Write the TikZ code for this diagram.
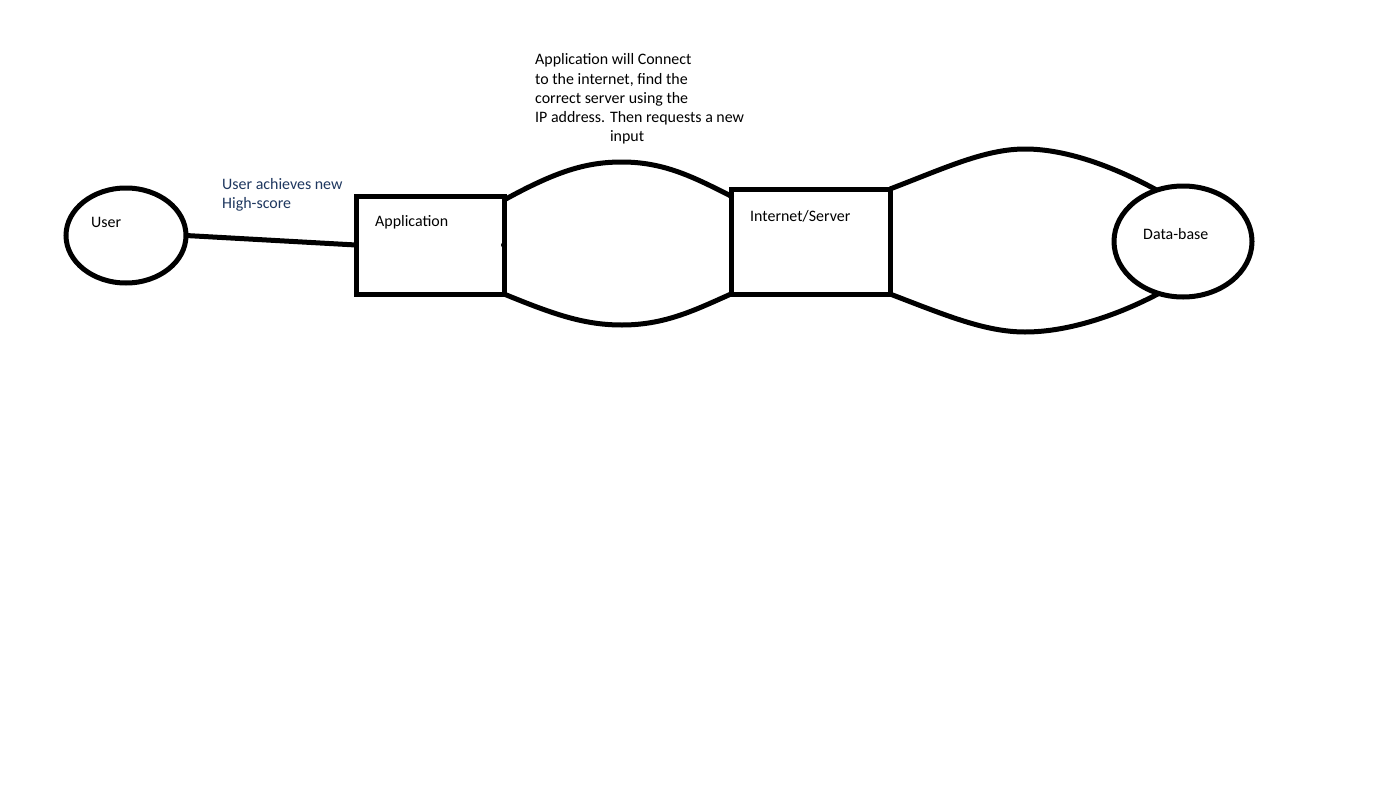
\documentclass[tikz,border=0pt]{standalone}
\usepackage{fontspec}
\setmainfont{Carlito}
\usetikzlibrary{shapes.geometric}
\definecolor{notenavy}{RGB}{30,55,95}
\begin{document}
\begin{tikzpicture}[x=1bp,y=-1bp,
  stroke/.style={line width=5bp},
  blob/.style={ellipse, draw, line width=5bp, inner sep=0pt, outer sep=0pt},
  box/.style={rectangle, draw, line width=5bp, inner sep=0pt, outer sep=0pt},
  txt/.style={anchor=base west, inner sep=0pt, font=\fontsize{16}{19}\selectfont},
]
\fill[white] (0,0) rectangle (1382,799);
\useasboundingbox (0,0) rectangle (1382,799);

% shapes
\node[blob, minimum width=120bp, minimum height=95bp] (user) at (126,235.5) {};
\node[box, minimum width=148bp, minimum height=98bp] (app) at (430,245) {};
\node[box, minimum width=159bp, minimum height=105bp] (inet) at (810.5,241.5) {};
\node[blob, minimum width=138bp, minimum height=111bp] (db) at (1183,241.5) {};

% connectors
\draw[stroke] (user.east) -- (app.west);
\draw[stroke] ([yshift=-4bp]app.north east)
  .. controls (555,172) and (585,162) .. (622,162)
  .. controls (665,162) and (695,178) .. ([yshift=-7bp]inet.north west);
\draw[stroke] (app.south east)
  .. controls (555,315) and (585,325) .. (622,325)
  .. controls (665,325) and (695,310) .. (inet.south west);
\draw[stroke] (inet.north east)
  .. controls (945,168) and (985,149) .. (1025,149)
  .. controls (1070,149) and (1120,170) .. (db.117);
\draw[stroke] (inet.south east)
  .. controls (945,315) and (985,332) .. (1025,332)
  .. controls (1070,332) and (1120,314) .. (db.245);
\fill (app.east) circle (3bp);
\fill ([yshift=-7bp]inet.north west) circle (3bp);

% labels
\node[txt] (lu) at (91,227) {User};
\node[txt] (la) at (375,226) {Application};
\node[txt] (li) at (750,221) {Internet/Server};
\node[txt] (ld) at (1143,239) {Data-base};

\node[txt, text=notenavy] (n1) at (222,189) {User achieves new};
\node[txt, text=notenavy] (n2) at (222,208) {High-score};

\node[txt] (c1) at (535,65) {Application will Connect};
\node[txt] (c2) at (535,84) {to the internet, find the};
\node[txt] (c3) at (535,103) {correct server using the};
\node[txt] (c4) at (535,122) {IP address. Then requests a new};
\node[txt] (c5) at (535,141) {\phantom{IP address. }input};
\end{tikzpicture}
\end{document}
